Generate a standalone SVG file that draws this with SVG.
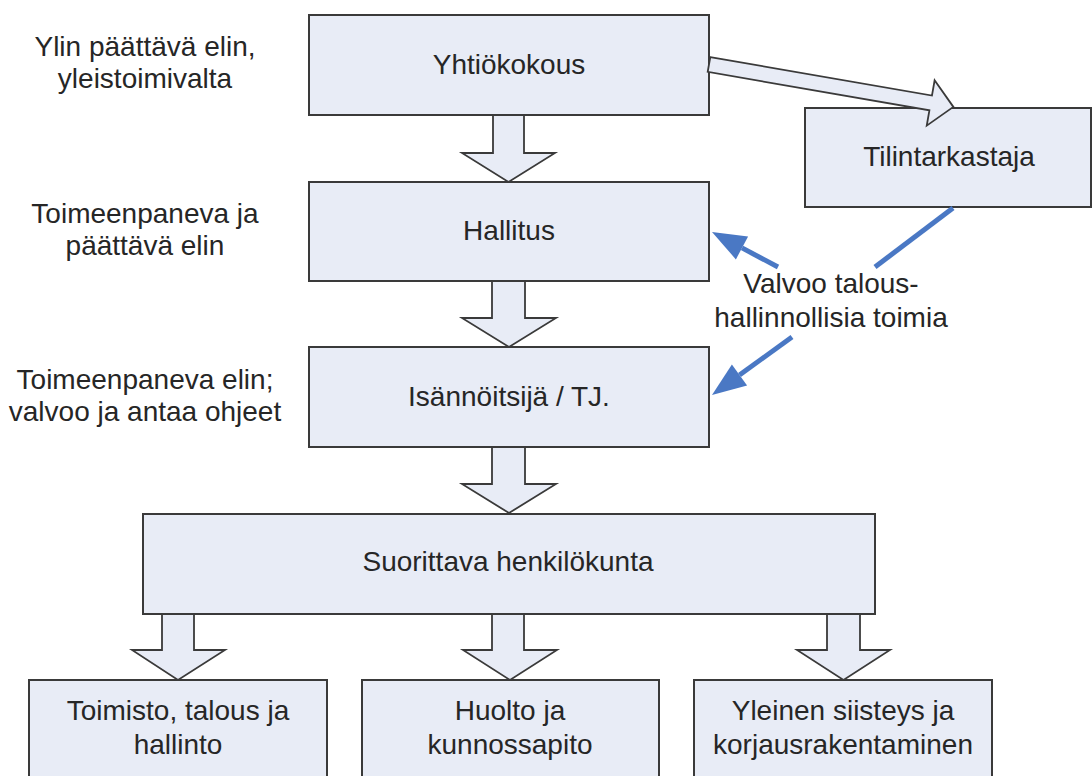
<svg xmlns="http://www.w3.org/2000/svg" width="1092" height="776" viewBox="0 0 1092 776">
  <style>
    .box { fill: #e8ecf6; stroke: #3a3a3a; stroke-width: 2; }
    .harrow { fill: #e8ecf6; stroke: #3a3a3a; stroke-width: 1.8; stroke-linejoin: miter; }
    .t { font-family: "Liberation Sans", Arial, sans-serif; font-size: 28px; fill: #262626; text-anchor: middle; }
    .blue { stroke: #4a78c4; stroke-width: 5; fill: none; }
    .bluehead { fill: #4a78c4; }
  </style>
  <rect width="1092" height="776" fill="#ffffff"/>

  <g id="labels">
    <text class="t" x="145" y="56">Ylin päättävä elin,</text>
    <text class="t" x="145" y="88">yleistoimivalta</text>
    <text class="t" x="145" y="223">Toimeenpaneva ja</text>
    <text class="t" x="145" y="255">päättävä elin</text>
    <text class="t" x="145" y="389">Toimeenpaneva elin;</text>
    <text class="t" x="145" y="421">valvoo ja antaa ohjeet</text>
  </g>

  <g id="node-yhtiokokous">
    <rect class="box" x="309" y="15" width="400" height="100"/>
    <text class="t" x="509" y="74">Yhtiökokous</text>
  </g>
  <g id="node-tilintarkastaja">
    <rect class="box" x="805" y="108" width="286" height="99"/>
    <text class="t" x="949" y="166">Tilintarkastaja</text>
  </g>
  <g id="node-hallitus">
    <rect class="box" x="309" y="182" width="400" height="99"/>
    <text class="t" x="509" y="240">Hallitus</text>
  </g>
  <g id="node-isannoitsija">
    <rect class="box" x="309" y="347" width="400" height="100"/>
    <text class="t" x="509" y="406">Isännöitsijä / TJ.</text>
  </g>
  <g id="node-suorittava">
    <rect class="box" x="143" y="514" width="732" height="100"/>
    <text class="t" x="508" y="571">Suorittava henkilökunta</text>
  </g>
  <g id="node-toimisto">
    <rect class="box" x="29" y="680" width="298" height="110"/>
    <text class="t" x="178" y="720">Toimisto, talous ja</text>
    <text class="t" x="178" y="754">hallinto</text>
  </g>
  <g id="node-huolto">
    <rect class="box" x="362" y="680" width="297" height="110"/>
    <text class="t" x="510" y="720">Huolto ja</text>
    <text class="t" x="510" y="754">kunnossapito</text>
  </g>
  <g id="node-siisteys">
    <rect class="box" x="694" y="680" width="298" height="110"/>
    <text class="t" x="843" y="720">Yleinen siisteys ja</text>
    <text class="t" x="843" y="754">korjausrakentaminen</text>
  </g>

  <g id="connectors">
    <!-- hollow down arrows -->
    <path class="harrow" d="M493,115 L524,115 L524,153 L555,153 L508.5,182 L462,153 L493,153 Z"/>
    <path class="harrow" d="M492,281 L525,281 L525,318 L556,318 L509,347 L462,318 L492,318 Z"/>
    <path class="harrow" d="M492,447 L525,447 L525,484 L556,484 L509,513 L462,484 L492,484 Z"/>
    <path class="harrow" d="M162,614 L194,614 L194,650 L225,650 L178,680 L132,650 L162,650 Z"/>
    <path class="harrow" d="M492,614 L524,614 L524,650 L557,650 L510,680 L463,650 L492,650 Z"/>
    <path class="harrow" d="M827,614 L860,614 L860,650 L890,650 L843.5,680 L797,650 L827,650 Z"/>
    <!-- hollow diagonal arrow to Tilintarkastaja -->
    <path class="harrow" transform="translate(709,64.5) rotate(9.84)" d="M0,-7.5 L225,-7.5 L225,-23 L248,0 L225,23 L225,7.5 L0,7.5 Z"/>
    <!-- blue supervision connectors -->
    <line class="blue" x1="953" y1="208" x2="875" y2="267"/>
    <line class="blue" x1="778" y1="267" x2="742" y2="247.9"/>
    <polygon class="bluehead" points="712,232 735.9,259.4 748.1,236.4"/>
    <line class="blue" x1="792" y1="337" x2="739.5" y2="375"/>
    <polygon class="bluehead" points="712,395 747.1,385.5 731.9,364.5"/>
    <text class="t" x="831" y="293">Valvoo talous-</text>
    <text class="t" x="831" y="327">hallinnollisia toimia</text>
  </g>
</svg>
